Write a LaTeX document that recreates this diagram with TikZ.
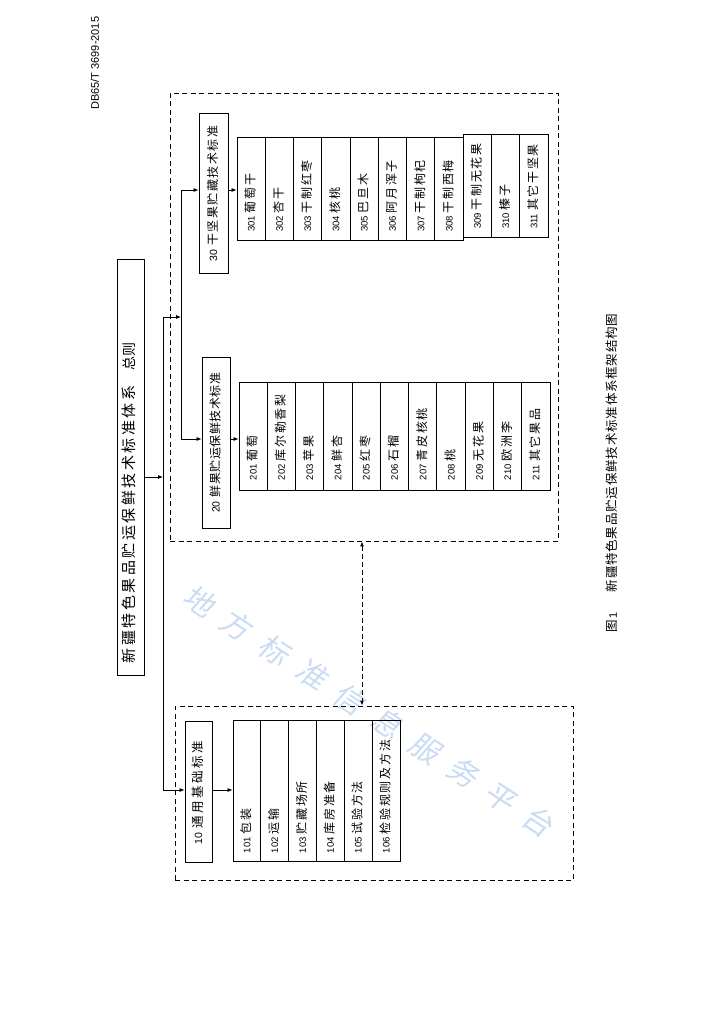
\documentclass[tikz,border=0pt]{standalone}
\usepackage{fontspec}
\setmainfont{Noto Sans CJK SC}
\newfontfamily\cjk{Noto Sans CJK SC}
\newfontfamily\cjkW[FakeSlant=0.15]{Noto Sans CJK SC}
\newfontfamily\dig{Liberation Sans}
\newcommand\fsz[1]{\fontsize{#1}{#1}\selectfont}
\makeatletter
\def\myspread@loop#1{\ifx#1\relax\else#1\hspace{\myspread@gap}\expandafter\myspread@loop\fi}
\newcommand\myspread[2]{\def\myspread@gap{#1}\edef\myspread@tmp{#2}\expandafter\myspread@loop\myspread@tmp\relax}
\makeatother
\usetikzlibrary{arrows.meta}
\definecolor{wmc}{RGB}{202,220,243}
\begin{document}
\begin{tikzpicture}[x=1pt,y=-1pt,
  ln/.style={line width=0.75pt},
  arr/.style={ln,-{Latex[length=5pt,width=4pt]}},
  darr/.style={line width=0.9pt,dash pattern=on 5pt off 3pt,{Latex[length=5pt,width=4pt]}-{Latex[length=5pt,width=4pt]}},
  dbox/.style={draw,line width=0.9pt,dash pattern=on 5pt off 3.5pt,inner sep=0pt},
  rbox/.style={draw,line width=0.8pt,rotate=90,inner ysep=0pt,text height=0.85em,text depth=0.15em},
  g1/.style={rbox,inner xsep=8pt,text width=125pt,align=left,minimum height=27.83pt},
  g2/.style={rbox,inner xsep=10pt,text width=88pt,align=left,minimum height=28.27pt},
  g3/.style={rbox,inner xsep=8pt,text width=87pt,align=left,minimum height=28.27pt},
  plain/.style={rotate=90,inner sep=0pt,anchor=west}
]
\fill[white] (0,0) rectangle (724,1024);
\useasboundingbox (0,0) rectangle (724,1024);

% watermark
\node[rotate=-33,text=wmc,inner sep=0pt] (wm) at (375,715) {\mbox{\cjkW\fsz{30}\myspread{15pt}{地方标准信息服务平台}}};

% header and caption
\node[plain] (hdr) at (95,110) {\dig\fsz{11}DB65/T 3699-2015};
\node[plain] (cap) at (612,633) {\mbox{{\cjk\fsz{12.5}图}\hspace{2pt}{\dig\fsz{11}1}\hspace{20pt}{\cjk\fsz{12.5}\myspread{0.8pt}{新疆特色果品贮运保鲜技术标准体系框架结构图}}}};

% dashed containers
\node[dbox,minimum width=388pt,minimum height=448pt] (d2) at (364,317) {};
\node[dbox,minimum width=398pt,minimum height=174pt] (d1) at (374,793) {};

% title
\node[rbox,inner xsep=12pt,text width=392pt,align=left,minimum height=27pt,line width=1pt] (title) at (130.5,467)
  {\mbox{{\cjk\fsz{15}\myspread{2.5pt}{新疆特色果品贮运保鲜技术标准体系}}\hspace{13pt}{\cjk\fsz{14}总则}}};

% category boxes
\node[rbox,minimum width=141pt,minimum height=27pt] (b10) at (198.5,791.5)
  {\mbox{{\dig\fsz{10.5}10}\hspace{4pt}{\cjk\fsz{12.5}\myspread{2.5pt}{通用基础标准}}}};
\node[rbox,minimum width=171pt,minimum height=28pt] (b20) at (216,442.5)
  {\mbox{{\dig\fsz{10.5}20}\hspace{4pt}{\cjk\fsz{12}\myspread{0.5pt}{鲜果贮运保鲜技术标准}}}};
\node[rbox,minimum width=160pt,minimum height=29pt] (b30) at (213.5,193)
  {\mbox{{\dig\fsz{10.5}30}\hspace{4pt}{\cjk\fsz{12}\myspread{1.5pt}{干坚果贮藏技术标准}}}};

% group 10
\foreach \n/\t [count=\i] in {101/包装,102/运输,103/贮藏场所,104/库房准备,105/试验方法,106/检验规则及方法}
  \node[g1] (m1\i) at ({233+(\i-0.5)*27.83},790.5)
    {\mbox{{\dig\fsz{9.5}\n}\hspace{3pt}{\cjk\fsz{12}\myspread{1.7pt}{\t}}}};

% group 20
\foreach \n/\t [count=\i] in {201/葡萄,202/库尔勒香梨,203/苹果,204/鲜杏,205/红枣,206/石榴,207/青皮核桃,208/桃,209/无花果,210/欧洲李,211/其它果品}
  \node[g2] (m2\i) at ({239+(\i-0.5)*28.27},436)
    {\mbox{{\dig\fsz{9.5}\n}\hspace{3pt}{\cjk\fsz{12}\myspread{1.7pt}{\t}}}};

% group 30
\foreach \n/\t/\dy [count=\i] in {301/葡萄干/0,302/杏干/0,303/干制红枣/0,304/核桃/0,305/巴旦木/0,306/阿月浑子/0,307/干制枸杞/0,308/干制西梅/0,309/干制无花果/-3,310/榛子/-3,311/其它干坚果/-3}
  \node[g3] (m3\i) at ({237+(\i-0.5)*28.27},{188.5+\dy})
    {\mbox{{\dig\fsz{9.5}\n}\hspace{3pt}{\cjk\fsz{12}\myspread{1.7pt}{\t}}}};

% connectors
\coordinate (t1) at (163,477);
\coordinate (sT) at (163,317);
\coordinate (sB) at (163,790);
\coordinate (iT) at (181,190);
\coordinate (iM) at (181,317);
\coordinate (iB) at (181,439);
\coordinate (dc) at (362,620);

\draw[ln] (sT) -- (sB);
\draw[ln] (iT) -- (iB);
\draw[arr] (title.south |- t1) -- (t1);
\draw[arr] (sT) -- (iM);
\draw[arr] (iT) -- (b30.north |- iT);
\draw[arr] (iB) -- (b20.north |- iB);
\draw[arr] (sB) -- (b10.north |- sB);
\draw[arr] (b10.south |- sB) -- (m11.north |- sB);
\draw[arr] (b20.south |- iB) -- (m21.north |- iB);
\draw[arr] (b30.south |- iT) -- (m31.north |- iT);
\draw[darr] (d2.south -| dc) -- (d1.north -| dc);
\end{tikzpicture}
\end{document}
